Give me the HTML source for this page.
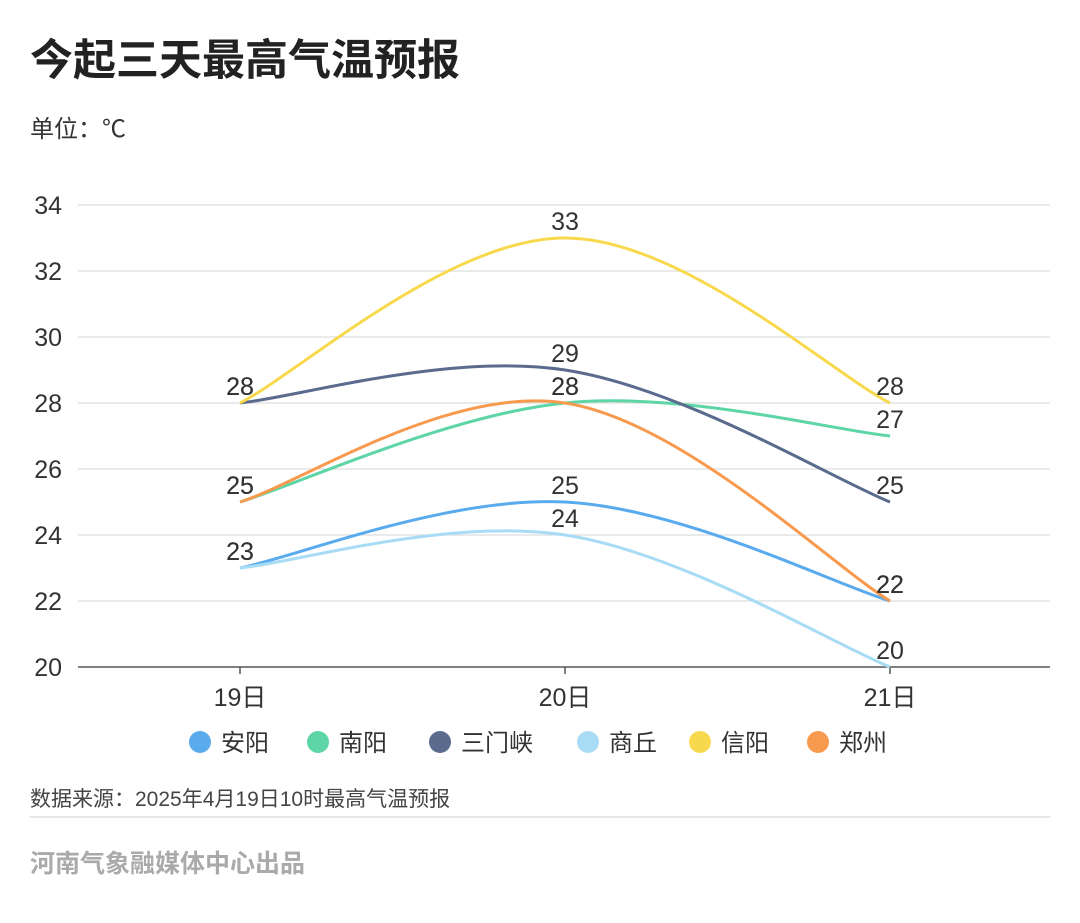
<!DOCTYPE html>
<html><head><meta charset="utf-8"><style>
body{margin:0;width:1080px;height:918px;background:#fff;font-family:"Liberation Sans","Noto Sans CJK SC",sans-serif;overflow:hidden}
</style></head><body>
<svg width="1080" height="918">
<text x="30" y="75" font-size="43" font-weight="bold" fill="#222">今起三天最高气温预报</text>
<text x="30" y="137" font-size="24" fill="#333">单位：℃</text>
<g id="grid"></g><g id="series"></g><g id="labels"></g><g id="legend"></g>
<text x="30" y="806" font-size="21" fill="#444">数据来源：2025年4月19日10时最高气温预报</text>
<line x1="30" y1="817" x2="1050" y2="817" stroke="#ddd" stroke-width="1.5"/>
<text x="30" y="872" font-size="25" font-weight="bold" fill="#aaa">河南气象融媒体中心出品</text>
</svg>
<script>
const categories=["19日","20日","21日"];
const yTicks=[20,22,24,26,28,30,32,34];
const seriesNames=["安阳","南阳","三门峡","商丘","信阳","郑州"];
const seriesColors=["#5aabee","#5dd5a6","#5a6b8e","#a8dcf5","#f8d94e","#f89a4e"];
const anyang=[23,25,22];
const nanyang=[25,28,27];
const sanmenxia=[28,29,25];
const shangqiu=[23,24,20];
const xinyang=[28,33,28];
const zhengzhou=[25,28,22];
const seriesValues=[anyang,nanyang,sanmenxia,shangqiu,xinyang,zhengzhou];
const NS="http://www.w3.org/2000/svg";
function X(i){return 240+i*325;}
function Y(v){return 667-(v-20)*33;}
function mk(t,a,p){const e=document.createElementNS(NS,t);for(const k in a)e.setAttribute(k,a[k]);p.appendChild(e);return e;}
const grid=document.getElementById('grid');
yTicks.forEach(v=>{
 const l=mk('line',{x1:78,x2:1050,y1:Y(v),y2:Y(v),stroke:v===20?'#555':'#ddd','stroke-width':v===20?1.5:1.2},grid);
 
 
 const t=mk('text',{x:62,y:Y(v)+9,'font-size':25,fill:'#333','text-anchor':'end'},grid);t.textContent=v;
 
 
});
categories.forEach((c,i)=>{
 const tk=mk('line',{x1:X(i),x2:X(i),y1:667,y2:674,stroke:'#555','stroke-width':1.5},grid);
 
 
 const t=mk('text',{x:X(i),y:706,'font-size':25,fill:'#333','text-anchor':'middle'},grid);t.textContent=c;
 
 
});
const sg=document.getElementById('series'),lg=document.getElementById('labels');
const sm=0.18;
seriesValues.forEach((vals,s)=>{
 const p=vals.map((v,i)=>[X(i),Y(v)]);
 let d='M'+p[0][0]+','+p[0][1];
 for(let i=0;i<p.length-1;i++){
  const p0=p[Math.max(0,i-1)],p1=p[i],p2=p[i+1],p3=p[Math.min(p.length-1,i+2)];
  const c1=[p1[0]+(p2[0]-p0[0])*sm,p1[1]+(p2[1]-p0[1])*sm];
  const c2=[p2[0]-(p3[0]-p1[0])*sm,p2[1]-(p3[1]-p1[1])*sm];
  d+=' C'+c1+' '+c2+' '+p2;
 }
 const path=mk('path',{d:d,fill:'none',stroke:seriesColors[s],'stroke-width':3},sg);
 
 
 vals.forEach((v,i)=>{
  const t=mk('text',{x:X(i),y:Y(v)-8,'font-size':25,fill:'#333','text-anchor':'middle'},lg);t.textContent=v;
  
  
 });
});
const leg=document.getElementById('legend');
const lx=[200,318,440,588,700,818];
seriesNames.forEach((n,i)=>{
 const g=mk('g',{},leg);
 
 
 mk('circle',{cx:lx[i],cy:742,r:11,fill:seriesColors[i]},g);
 const t=mk('text',{x:lx[i]+21,y:751,'font-size':24,fill:'#333'},g);t.textContent=n;
});
</script>
</body></html>
